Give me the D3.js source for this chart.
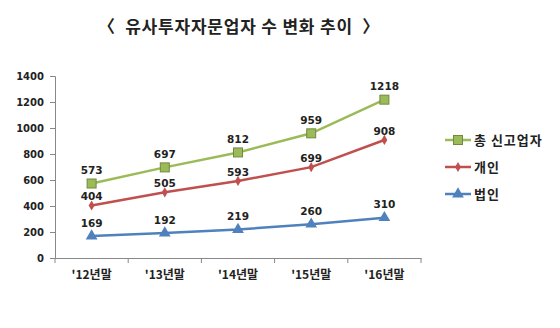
<!DOCTYPE html>
<html><head><meta charset="utf-8">
<script src="https://cdn.jsdelivr.net/npm/d3@7"></script>
<style>
body{margin:0;background:#fff;}
text{font-family:"Noto Sans CJK KR","Noto Sans",sans-serif;}
</style></head>
<body>
<svg id="c" width="560" height="328"></svg>
<script>
const categories = ["'12년말","'13년말","'14년말","'15년말","'16년말"];
const seriesNames = ["총 신고업자","개인","법인"];
const totalValues = [573,697,812,959,1218];
const personValues = [404,505,593,699,908];
const corpValues = [169,192,219,260,310];
const yTicks = [0,200,400,600,800,1000,1200,1400];
const colors = ["#9BBB59","#C0504D","#4F81BD"];
const title = "〈  유사투자자문업자 수 변화 추이  〉";

const svg = d3.select("#c");
const x0 = 55, x1 = 421, yTop = 76, yBot = 258;
const x = d3.scaleBand().domain(categories).range([x0,x1]);
const y = d3.scaleLinear().domain([0,1400]).range([yBot,yTop]);

svg.append("text").attr("x",239).attr("y",33).attr("text-anchor","middle")
  .attr("font-size",17).attr("font-weight","bold").attr("fill","#222")
  .attr("letter-spacing",0.8).style("white-space","pre").attr("xml:space","preserve").text(title);

const ya = svg.append("g").attr("transform",`translate(${x0},0)`)
  .call(d3.axisLeft(y).tickValues(yTicks).tickFormat(d3.format("d")).tickSize(5).tickPadding(6));
ya.select(".domain").attr("stroke","#888");
ya.selectAll(".tick line").attr("stroke","#888");
ya.selectAll("text").attr("font-weight","bold").attr("fill","#222")
  .style("font-family","'DejaVu Sans',sans-serif").attr("font-size",10);

const xa = svg.append("g").attr("transform",`translate(0,${yBot})`)
  .call(d3.axisBottom(x).tickSize(0).tickPadding(12));
xa.select(".domain").attr("stroke","#888");
xa.selectAll("text").attr("font-size",12).attr("font-weight","bold").attr("fill","#222");
const bounds = categories.map(c=>x(c)).concat([x1]);
svg.append("g").selectAll("line").data(bounds).join("line")
  .attr("x1",d=>d).attr("x2",d=>d).attr("y1",yBot).attr("y2",yBot+5).attr("stroke","#888");

const data = [totalValues, personValues, corpValues];
const labelOffset = [9.5, 5, 9.5];
const cx = c => x(c) + x.bandwidth()/2;
const line = d3.line().x((d,i)=>cx(categories[i])).y(d=>y(d));

data.forEach((vals,si)=>{
  const g = svg.append("g");
  g.append("path").datum(vals).attr("d",line).attr("fill","none")
    .attr("stroke",colors[si]).attr("stroke-width",2.5);
  vals.forEach((v,i)=>{
    const px = cx(categories[i]), py = y(v);
    drawMarker(g, si, px, py);
    g.append("text").attr("x",px).attr("y",py-labelOffset[si]).attr("text-anchor","middle")
      .attr("font-size",10.5).attr("font-weight","bold").attr("fill","#222")
      .style("font-family","'DejaVu Sans',sans-serif").text(v);
  });
});

function drawMarker(g, si, px, py){
  if(si===0){
    g.append("rect").attr("x",px-4.5).attr("y",py-4.5).attr("width",9).attr("height",9)
      .attr("fill","#9BBB59").attr("stroke","#71893F").attr("stroke-width",1);
  } else if(si===1){
    g.append("path").attr("d",d3.symbol(d3.symbolDiamond,30)()).attr("transform",`translate(${px},${py})`)
      .attr("fill","#C0504D");
  } else {
    g.append("path").attr("d",d3.symbol(d3.symbolTriangle,60)()).attr("transform",`translate(${px},${py})`)
      .attr("fill","#4F81BD");
  }
}

const leg = svg.append("g");
const legY = [140,167,194];
seriesNames.forEach((n,i)=>{
  leg.append("line").attr("x1",445).attr("x2",471).attr("y1",legY[i]).attr("y2",legY[i])
    .attr("stroke",colors[i]).attr("stroke-width",2.5);
  drawMarker(leg, i, 458, legY[i]);
  leg.append("text").attr("x",474).attr("y",legY[i]+5).attr("font-size",13)
    .attr("font-weight","bold").attr("fill","#222").attr("letter-spacing",1).text(n);
});
</script>
</body></html>
